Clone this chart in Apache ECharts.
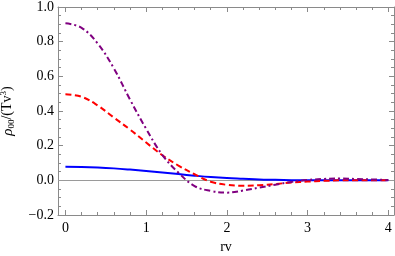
<!DOCTYPE html>
<html>
<head>
<meta charset="utf-8">
<script src="https://cdn.jsdelivr.net/npm/echarts@6/dist/echarts.min.js"></script>
<style>
html,body{margin:0;padding:0;background:#fff;}
#chart{width:395px;height:256px;}
</style>
</head>
<body>
<div id="chart"></div>
<script>
// ---- data ----
const rv = [0, 0.2, 0.4, 0.6, 0.8, 1.0, 1.2, 1.4, 1.6, 1.8, 2.0, 2.2, 2.4, 2.6, 2.8, 3.0, 3.2, 3.4, 3.6, 3.8, 4.0];
const blueSeries = [0.078, 0.077, 0.074, 0.069, 0.062, 0.054, 0.045, 0.036, 0.027, 0.019, 0.013, 0.009, 0.005, 0.003, 0.001, 0.000, 0.000, 0.000, 0.000, 0.000, 0.000];
const redSeries = [0.496, 0.482, 0.432, 0.362, 0.293, 0.218, 0.145, 0.085, 0.035, -0.008, -0.026, -0.031, -0.028, -0.021, -0.013, -0.007, -0.003, 0.000, 0.001, 0.001, 0.000];
const purpleSeries = [0.906, 0.880, 0.789, 0.646, 0.466, 0.297, 0.147, 0.044, -0.033, -0.061, -0.071, -0.059, -0.042, -0.025, -0.009, 0.002, 0.008, 0.010, 0.008, 0.005, 0.002];
const xMajorTicks = [0, 1, 2, 3, 4];
const xMinorTicks = [0.2, 0.4, 0.6, 0.8, 1.2, 1.4, 1.6, 1.8, 2.2, 2.4, 2.6, 2.8, 3.2, 3.4, 3.6, 3.8];
const xLabels = [0, 1, 2, 3, 4];

const pairs = ys => rv.map((x, i) => [x, ys[i]]);
const frameColor = '#8a8a8a';
const font = 'Liberation Serif';
const xMin = -0.092, xMax = 4.07;

function xAx(pos, vals, len, showLabel, showLine) {
  return {
    type: 'value', position: pos, min: xMin, max: xMax,
    axisLine: { show: showLine, onZero: false, lineStyle: { color: frameColor, width: 1 } },
    axisTick: { show: true, inside: true, length: len, customValues: vals, lineStyle: { color: frameColor } },
    axisLabel: showLabel ? { show: true, customValues: xLabels, color: '#000', fontFamily: font, fontSize: 14, margin: 6 } : { show: false },
    splitLine: { show: false }
  };
}
function yAx(pos, showLabel) {
  return {
    type: 'value', position: pos, min: -0.2, max: 1.0, interval: 0.2,
    axisLine: { show: true, onZero: false, lineStyle: { color: frameColor, width: 1 } },
    axisTick: { show: true, inside: true, length: 5, lineStyle: { color: frameColor } },
    minorTick: { show: true, splitNumber: 4, length: 3, lineStyle: { color: frameColor } },
    axisLabel: showLabel ? {
      show: true, color: '#000', fontFamily: font, fontSize: 14, margin: 4,
      formatter: v => (v < 0 ? '\u2212' : '') + Math.abs(v).toFixed(1)
    } : { show: false },
    splitLine: { show: false }
  };
}

const chart = echarts.init(document.getElementById('chart'), null, { renderer: 'canvas' });
const xAxes = [
  xAx('bottom', xMajorTicks, 5, true, true),
  xAx('bottom', xMinorTicks, 3, false, false),
  xAx('top', xMajorTicks, 5, false, true),
  xAx('top', xMinorTicks, 3, false, false)
];
xAxes[0].name = 'rv';
xAxes[0].nameLocation = 'middle';
xAxes[0].nameGap = 24;
xAxes[0].nameTextStyle = { color: '#000', fontFamily: font, fontSize: 14 };
const yAxes = [yAx('left', true), yAx('right', false)];
yAxes[0].name = '{i|ρ}{sub|00}{n|/(Tv}{sup|3}{n|)}';
yAxes[0].nameLocation = 'middle';
yAxes[0].nameRotate = 90;
yAxes[0].nameGap = 38;
yAxes[0].nameTextStyle = {
  color: '#000', fontFamily: font, fontSize: 14,
  rich: {
    i: { fontFamily: font, fontStyle: 'italic', fontSize: 15, lineHeight: 20, verticalAlign: 'middle' },
    n: { fontFamily: font, fontSize: 14, lineHeight: 20, verticalAlign: 'middle' },
    sub: { fontFamily: font, fontSize: 9, lineHeight: 20, verticalAlign: 'bottom', padding: [0, 0, 2, 0] },
    sup: { fontFamily: font, fontSize: 9, lineHeight: 20, verticalAlign: 'top', padding: [1, 0, 0, 0] }
  }
};

const lineCommon = { type: 'line', xAxisIndex: 0, yAxisIndex: 0, showSymbol: false, smooth: 0.4, animation: false, z: 3 };
chart.setOption({
  animation: false,
  backgroundColor: '#fff',
  grid: { left: 58, right: 1, top: 7, bottom: 41, containLabel: false, outerBoundsMode: 'none' },
  xAxis: xAxes,
  yAxis: yAxes,
  series: [
    Object.assign({}, lineCommon, {
      name: 'blue', data: pairs(blueSeries),
      lineStyle: { color: '#0000ff', width: 2 },
      markLine: { silent: true, symbol: 'none', label: { show: false }, lineStyle: { color: '#9a9a9a', width: 1, type: 'solid' }, data: [{ yAxis: 0 }], z: 1 }
    }),
    Object.assign({}, lineCommon, {
      name: 'red', data: pairs(redSeries),
      lineStyle: { color: '#ff0000', width: 2, type: [6, 3.5] }
    }),
    Object.assign({}, lineCommon, {
      name: 'purple', data: pairs(purpleSeries),
      lineStyle: { color: '#800080', width: 2, type: [6, 3, 2, 3] }
    })
  ]
});
</script>
</body>
</html>
